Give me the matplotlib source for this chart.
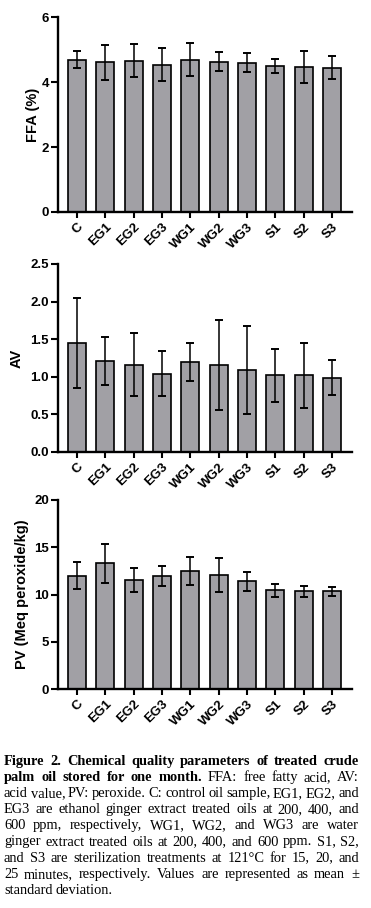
import numpy as np
import matplotlib.pyplot as plt

groups = ['C', 'EG1', 'EG2', 'EG3', 'WG1', 'WG2', 'WG3', 'S1', 'S2', 'S3']

ffa_mean = [4.69, 4.61, 4.66, 4.53, 4.69, 4.63, 4.59, 4.49, 4.47, 4.44]
ffa_sd = [0.25, 0.54, 0.51, 0.51, 0.52, 0.29, 0.29, 0.22, 0.49, 0.35]

av_mean = [1.45, 1.21, 1.16, 1.04, 1.20, 1.16, 1.09, 1.02, 1.02, 0.99]
av_sd = [0.60, 0.32, 0.42, 0.30, 0.25, 0.60, 0.58, 0.35, 0.43, 0.23]

pv_mean = [11.99, 13.30, 11.53, 11.92, 12.45, 12.10, 11.39, 10.44, 10.33, 10.33]
pv_sd = [1.40, 2.05, 1.24, 1.07, 1.48, 1.80, 1.03, 0.67, 0.60, 0.48]

caption = [
    [("Figure 2. Chemical quality parameters of treated crude", 'bold')],
    [("palm oil stored for one month.", 'bold'), ("FFA: free fatty acid, AV:", 'normal')],
    [("acid value, PV: peroxide. C: control oil sample, EG1, EG2, and", 'normal')],
    [("EG3 are ethanol ginger extract treated oils at 200, 400, and", 'normal')],
    [("600 ppm, respectively, WG1, WG2, and WG3 are water", 'normal')],
    [("ginger extract treated oils at 200, 400, and 600 ppm. S1, S2,", 'normal')],
    [("and S3 are sterilization treatments at 121\u00b0C for 15, 20, and", 'normal')],
    [("25 minutes, respectively. Values are represented as mean \u00b1", 'normal')],
    [("standard deviation.", 'normal')],
]

plt.rcParams['font.family'] = ['Liberation Sans', 'DejaVu Sans']

fig = plt.figure(figsize=(3.71, 9.08), dpi=100)
W, H = 371, 908

panels = [
    (ffa_mean, ffa_sd, 'FFA (%)', [0, 2, 4, 6], '{:.0f}', [17, 212], -3),
    (av_mean, av_sd, 'AV', [0, 0.5, 1.0, 1.5, 2.0, 2.5], '{:.1f}', [264, 452], 1),
    (pv_mean, pv_sd, 'PV (Meq peroxide/kg)', [0, 5, 10, 15, 20], '{:.0f}', [500, 689], 0),
]

x = np.arange(len(groups))
for mean, sd, label, yt, fmt, (top, bot), pad in panels:
    ax = fig.add_axes([58 / W, 1 - bot / H, 294 / W, (bot - top) / H])
    ax.bar(x, mean, width=0.64, color='#a1a0a5', edgecolor='black', linewidth=1.2)
    ax.errorbar(x, mean, yerr=sd, fmt='none', ecolor='black', elinewidth=1.1,
                capsize=3.2, capthick=1.4)
    ax.set_xlim(-0.67, 9.71)
    ax.set_ylim(yt[0], yt[-1])
    ax.set_yticks(yt)
    ax.set_yticklabels([fmt.format(v) for v in yt], fontsize=9.5, fontweight='bold')
    ax.set_xticks(x)
    ax.set_xticklabels(groups, rotation=45, ha='right', rotation_mode='anchor',
                       fontsize=9.5, fontweight='bold')
    ax.spines['top'].set_visible(False)
    ax.spines['right'].set_visible(False)
    ax.spines['left'].set_linewidth(1.7)
    ax.spines['bottom'].set_linewidth(1.7)
    ax.tick_params(axis='y', width=1.5, length=5, pad=1.5)
    ax.tick_params(axis='x', width=1.5, length=4, pad=2.5)
    ax.set_ylabel(label, fontsize=10.5, fontweight='bold', labelpad=4 + pad)

# justified caption below the charts
renderer = fig.canvas.get_renderer()
left, right = 4, 359
y0, dy = 765, 16.1
serif = ['Liberation Serif', 'DejaVu Serif']


def place_line(words, yb, fs):
    texts = [fig.text(0, 1 - yb / H, w, fontsize=fs, fontweight=wt, family=serif,
                      va='baseline', ha='left') for w, wt in words]
    widths = [t.get_window_extent(renderer).width for t in texts]
    return texts, widths


lines = []
for line in caption:
    words = []
    for chunk, wt in line:
        words += [(w, wt) for w in chunk.split(' ')]
    lines.append(words)

# pick the largest size at which every line still fits with normal spaces
fs = 11.0
while fs > 7:
    ok = True
    for words in lines[:-1]:
        texts, widths = place_line(words, 0, fs)
        for t in texts:
            t.remove()
        if sum(widths) + 2.6 * (len(words) - 1) > right - left:
            ok = False
            break
    if ok:
        break
    fs -= 0.1

for i, words in enumerate(lines):
    texts, widths = place_line(words, y0 + i * dy, fs)
    if i == len(lines) - 1:
        gap = 3.0
    else:
        gap = (right - left - sum(widths)) / (len(words) - 1)
    xp = left
    for t, w in zip(texts, widths):
        t.set_x(xp / W)
        xp += w + gap

fig.savefig('out.png', dpi=100)
